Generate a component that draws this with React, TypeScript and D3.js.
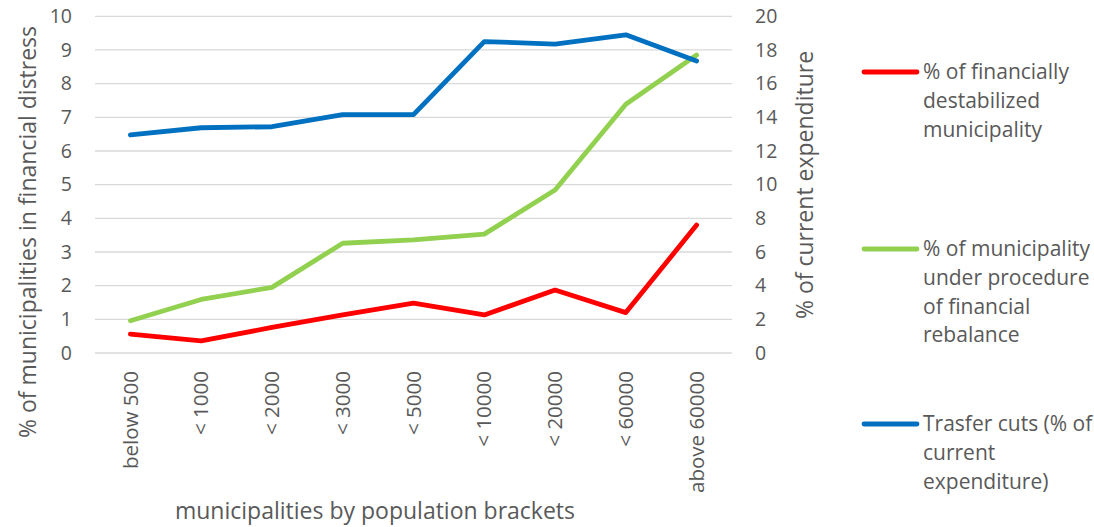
import React from "react";
import * as d3 from "d3";

const categories = ["below 500", "< 1000", "< 2000", "< 3000", "< 5000", "< 10000", "< 20000", "< 60000", "above 60000"];
const destabilized = [0.56, 0.36, 0.76, 1.13, 1.48, 1.13, 1.87, 1.2, 3.8];
const rebalance = [0.96, 1.59, 1.95, 3.26, 3.36, 3.53, 4.84, 7.39, 8.85];
const transferCuts = [12.95, 13.38, 13.44, 14.16, 14.16, 18.5, 18.35, 18.9, 17.35];
const leftTicks = [0, 1, 2, 3, 4, 5, 6, 7, 8, 9, 10];
const rightTicks = [0, 2, 4, 6, 8, 10, 12, 14, 16, 18, 20];

const legendItems = [
  { color: "#FF0000", lines: ["% of financially", "destabilized", "municipality"], y: 72 },
  { color: "#92D050", lines: ["% of municipality", "under procedure", "of financial", "rebalance"], y: 249 },
  { color: "#0070C0", lines: ["Trasfer cuts (% of", "current", "expenditure)"], y: 424 },
];

const W = 1094;
const H = 527;
const FONT = "'Open Sans', sans-serif";
const TEXT = "#595959";

export default function App() {
  const x = d3.scaleBand<string>().domain(categories).range([95, 732]).padding(0);
  const yL = d3.scaleLinear().domain([0, 10]).range([353, 16.3]);
  const yR = d3.scaleLinear().domain([0, 20]).range([353, 16.3]);
  const cx = (c: string) => (x(c) ?? 0) + x.bandwidth() / 2;

  const lineL = d3
    .line<number>()
    .x((_, i) => cx(categories[i]))
    .y((d) => yL(d));
  const lineR = d3
    .line<number>()
    .x((_, i) => cx(categories[i]))
    .y((d) => yR(d));

  const series = [
    { d: lineL(destabilized), color: "#FF0000" },
    { d: lineL(rebalance), color: "#92D050" },
    { d: lineR(transferCuts), color: "#0070C0" },
  ];

  return (
    <svg
      width={W}
      height={H}
      style={{ position: "absolute", left: 0, top: 0, background: "#fff" }}
      fontFamily={FONT}
    >
      {/* gridlines */}
      {leftTicks.map((t) => (
        <line key={t} x1={95} x2={732} y1={yL(t)} y2={yL(t)} stroke="#D9D9D9" strokeWidth={1.3} />
      ))}

      {/* left axis labels */}
      {leftTicks.map((t) => (
        <text key={t} x={72} y={yL(t)} dy="0.35em" textAnchor="end" fontSize={19.5} fill={TEXT}>
          {t}
        </text>
      ))}

      {/* right axis labels */}
      {rightTicks.map((t) => (
        <text key={t} x={755} y={yR(t)} dy="0.35em" textAnchor="start" fontSize={19.5} fill={TEXT}>
          {t}
        </text>
      ))}

      {/* category labels */}
      {categories.map((c) => (
        <text
          key={c}
          transform={`translate(${cx(c)},371) rotate(-90)`}
          textAnchor="end"
          dy="0.35em"
          fontSize={20.5}
          fill={TEXT}
        >
          {c}
        </text>
      ))}

      {/* axis titles */}
      <text
        transform="translate(28,232) rotate(-90)"
        textAnchor="middle"
        dy="0.35em"
        fontSize={23}
        fill={TEXT}
      >
        % of municipalities in financial distress
      </text>
      <text
        transform="translate(805,185) rotate(-90)"
        textAnchor="middle"
        dy="0.35em"
        fontSize={23}
        fill={TEXT}
      >
        % of current expenditure
      </text>
      <text x={375} y={511} textAnchor="middle" dy="0.35em" fontSize={23} fill={TEXT}>
        municipalities by population brackets
      </text>

      {/* series */}
      {series.map((s, i) => (
        <path
          key={i}
          d={s.d ?? ""}
          fill="none"
          stroke={s.color}
          strokeWidth={4.8}
          strokeLinecap="round"
          strokeLinejoin="round"
        />
      ))}

      {/* legend */}
      {legendItems.map((item, i) => (
        <g key={i}>
          <line x1={864} x2={917} y1={item.y} y2={item.y} stroke={item.color} strokeWidth={4.8} strokeLinecap="round" />
          {item.lines.map((ln, j) => (
            <text key={j} x={923} y={item.y + j * 28.6} dy="0.35em" fontSize={21} fill={TEXT}>
              {ln}
            </text>
          ))}
        </g>
      ))}
    </svg>
  );
}
